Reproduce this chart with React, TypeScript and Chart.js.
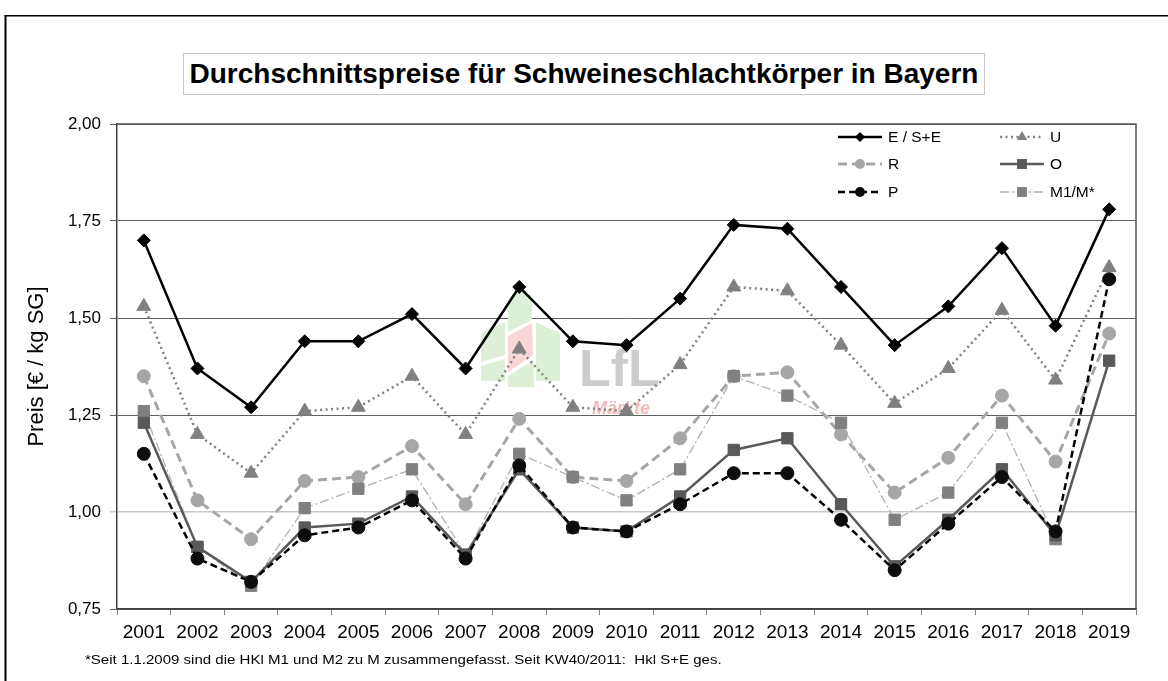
import React, { useEffect, useRef } from "react";
import { Chart, registerables } from "chart.js";

Chart.register(...registerables);

const FONT = '"Liberation Sans", Arial, sans-serif';

const years = ["2001", "2002", "2003", "2004", "2005", "2006", "2007", "2008", "2009", "2010", "2011", "2012", "2013", "2014", "2015", "2016", "2017", "2018", "2019"];

const seriesE = [1.70, 1.37, 1.27, 1.44, 1.44, 1.51, 1.37, 1.58, 1.44, 1.43, 1.55, 1.74, 1.73, 1.58, 1.43, 1.53, 1.68, 1.48, 1.78];
const seriesU = [1.53, 1.20, 1.10, 1.26, 1.27, 1.35, 1.20, 1.42, 1.27, 1.26, 1.38, 1.58, 1.57, 1.43, 1.28, 1.37, 1.52, 1.34, 1.63];
const seriesR = [1.35, 1.03, 0.93, 1.08, 1.09, 1.17, 1.02, 1.24, 1.09, 1.08, 1.19, 1.35, 1.36, 1.20, 1.05, 1.14, 1.30, 1.13, 1.46];
const seriesO = [1.23, 0.91, 0.82, 0.96, 0.97, 1.04, 0.89, 1.11, 0.96, 0.95, 1.04, 1.16, 1.19, 1.02, 0.86, 0.98, 1.11, 0.94, 1.39];
const seriesP = [1.15, 0.88, 0.82, 0.94, 0.96, 1.03, 0.88, 1.12, 0.96, 0.95, 1.02, 1.10, 1.10, 0.98, 0.85, 0.97, 1.09, 0.95, 1.60];
const seriesM = [1.26, 0.91, 0.81, 1.01, 1.06, 1.11, 0.89, 1.15, 1.09, 1.03, 1.11, 1.35, 1.30, 1.23, 0.98, 1.05, 1.23, 0.93, null];

const seriesLabels = ["E / S+E", "U", "R", "O", "P", "M1/M*"];
const yTicks = [0.75, 1.0, 1.25, 1.5, 1.75, 2.0];

const titleText = "Durchschnittspreise für Schweineschlachtkörper in Bayern";
const yTitle = "Preis [€ / kg SG]";
const footnote = "*Seit 1.1.2009 sind die HKl M1 und M2 zu M zusammengefasst. Seit KW40/2011:  Hkl S+E ges.";

function drawMarker(c: CanvasRenderingContext2D, style: string, x: number, y: number, r: number, color: string) {
  c.fillStyle = color;
  c.beginPath();
  if (style === "rectRot") {
    c.moveTo(x, y - r); c.lineTo(x + r, y); c.lineTo(x, y + r); c.lineTo(x - r, y); c.closePath();
  } else if (style === "triangle") {
    c.moveTo(x, y - r);
    c.lineTo(x + r * 0.866, y + r * 0.5);
    c.lineTo(x - r * 0.866, y + r * 0.5);
    c.closePath();
  } else if (style === "circle") {
    c.arc(x, y, r, 0, Math.PI * 2);
  } else {
    const s = r * 0.7071;
    c.rect(x - s, y - s, 2 * s, 2 * s);
  }
  c.fill();
}

const outerFramePlugin = {
  id: "outerFrame",
  beforeDraw(chart: any) {
    const c: CanvasRenderingContext2D = chart.ctx;
    c.save();
    c.fillStyle = "#000";
    c.fillRect(4.5, 15, 2, 681);
    c.fillRect(4.5, 15, 1170, 1.5);
    c.restore();
  },
};

const frameBorderPlugin = {
  id: "frameBorder",
  beforeDatasetsDraw(chart: any) {
    const { ctx, chartArea } = chart;
    ctx.save();
    ctx.strokeStyle = "#555555";
    ctx.lineWidth = 1.5;
    ctx.beginPath();
    ctx.moveTo(chartArea.left, chartArea.top);
    ctx.lineTo(chartArea.right, chartArea.top);
    ctx.lineTo(chartArea.right, chartArea.bottom);
    ctx.stroke();
    ctx.restore();
  },
};

const watermarkPlugin = {
  id: "watermark",
  beforeDatasetsDraw(chart: any) {
    const c: CanvasRenderingContext2D = chart.ctx;
    c.save();
    const poly = (pts: number[][], color: string) => {
      c.fillStyle = color;
      c.beginPath();
      pts.forEach((p, i) => (i ? c.lineTo(p[0], p[1]) : c.moveTo(p[0], p[1])));
      c.closePath();
      c.fill();
    };
    const green = "#ddefd6";
    const pink = "#f8d6d6";
    poly([[481, 333], [505, 322], [505, 355], [481, 362]], green);
    poly([[481, 366], [505, 359], [505, 381], [481, 381]], green);
    poly([[508, 300], [520, 287], [532, 296], [532, 320], [508, 332]], green);
    poly([[508, 336], [532, 323], [533, 355], [508, 372]], pink);
    poly([[536, 322], [560, 333], [560, 381], [536, 381]], green);
    poly([[508, 376], [534, 360], [534, 387], [508, 387]], green);
    c.fillStyle = "#cccccc";
    c.font = `bold 52px ${FONT}`;
    c.textBaseline = "alphabetic";
    c.fillText("LfL", 579, 386);
    c.fillStyle = "#f5b9b9";
    c.font = `italic bold 18px ${FONT}`;
    c.fillText("Märkte", 592, 414);
    c.restore();
  },
};

const customLegendPlugin = {
  id: "customLegend",
  afterDatasetsDraw(chart: any) {
    const c: CanvasRenderingContext2D = chart.ctx;
    const cols = [838, 1000];
    const rows = [137, 164, 192];
    c.save();
    chart.data.datasets.forEach((ds: any, i: number) => {
      const col = i % 2;
      const row = Math.floor(i / 2);
      const x0 = cols[col];
      const y = rows[row];
      c.strokeStyle = ds.borderColor;
      c.lineWidth = ds.borderWidth;
      c.setLineDash(ds.borderDash || []);
      c.beginPath();
      c.moveTo(x0, y);
      c.lineTo(x0 + 44, y);
      c.stroke();
      c.setLineDash([]);
      drawMarker(c, ds.pointStyle, x0 + 22, y, ds.legendRadius, ds.pointBackgroundColor);
      c.fillStyle = "#000";
      c.font = `15.5px ${FONT}`;
      c.textBaseline = "middle";
      c.fillText(ds.label, x0 + 50, y + 1);
    });
    c.restore();
  },
};

export default function App() {
  const ref = useRef<HTMLCanvasElement | null>(null);

  useEffect(() => {
    document.body.style.margin = "0";
    if (!ref.current) return;
    const chart = new Chart(ref.current, {
      type: "line",
      data: {
        labels: years,
        datasets: [
          { label: seriesLabels[0], data: seriesE, borderColor: "#000000", borderWidth: 2.5, pointStyle: "rectRot", pointRadius: 6.5, pointBackgroundColor: "#000000", pointBorderColor: "#000000", pointBorderWidth: 1, legendRadius: 5, order: 0 } as any,
          { label: seriesLabels[1], data: seriesU, borderColor: "#808080", borderWidth: 2.5, borderDash: [2, 3.5], pointStyle: "triangle", pointRadius: 8, pointBackgroundColor: "#808080", pointBorderColor: "#808080", pointBorderWidth: 1, legendRadius: 6, order: 5 } as any,
          { label: seriesLabels[2], data: seriesR, borderColor: "#a6a6a6", borderWidth: 3, borderDash: [9, 5], pointStyle: "circle", pointRadius: 6.5, pointBackgroundColor: "#a6a6a6", pointBorderColor: "#a6a6a6", pointBorderWidth: 1, legendRadius: 5, order: 4 } as any,
          { label: seriesLabels[3], data: seriesO, borderColor: "#595959", borderWidth: 2.5, pointStyle: "rect", pointRadius: 8, pointBackgroundColor: "#595959", pointBorderColor: "#595959", pointBorderWidth: 1, legendRadius: 7, order: 2 } as any,
          { label: seriesLabels[4], data: seriesP, borderColor: "#000000", borderWidth: 2.5, borderDash: [7, 4], pointStyle: "circle", pointRadius: 6.5, pointBackgroundColor: "#0d0d0d", pointBorderColor: "#0d0d0d", pointBorderWidth: 1, legendRadius: 5, order: 1 } as any,
          { label: seriesLabels[5], data: seriesM, borderColor: "#b0b0b0", borderWidth: 1.3, borderDash: [9, 3, 2, 3], pointStyle: "rect", pointRadius: 8, pointBackgroundColor: "#808080", pointBorderColor: "#808080", pointBorderWidth: 1, legendRadius: 7, spanGaps: false, order: 3 } as any,
        ],
      },
      options: {
        animation: false,
        responsive: false,
        devicePixelRatio: 1,
        layout: { padding: { left: 0, top: 124, right: 32, bottom: 0 } },
        plugins: {
          legend: { display: false },
          title: { display: false },
          tooltip: { enabled: false },
        },
        scales: {
          x: {
            offset: true,
            grid: { offset: true, drawOnChartArea: false, tickLength: 6, color: "#808080", lineWidth: 1 },
            border: { display: true, color: "#404040", width: 1.5 },
            ticks: { color: "#000", font: { family: FONT, size: 19 }, padding: 6, maxRotation: 0, autoSkip: false },
            afterFit: (s: any) => { s.height = 72; },
          },
          y: {
            min: yTicks[0],
            max: yTicks[yTicks.length - 1],
            afterBuildTicks: (s: any) => { s.ticks = yTicks.map((v) => ({ value: v })); },
            ticks: {
              color: "#000",
              font: { family: FONT, size: 17 },
              padding: 9,
              callback: (v: any) => Number(v).toFixed(2).replace(".", ","),
            },
            grid: {
              color: (ctx: any) => (ctx.tick && Math.abs(ctx.tick.value - 1) < 1e-6 ? "#c8c8c8" : "#606060"),
              lineWidth: (ctx: any) => (ctx.tick && Math.abs(ctx.tick.value - 1) < 1e-6 ? 1.5 : 1),
              tickLength: 7,
            },
            border: { display: true, color: "#404040", width: 1.5 },
            title: { display: true, text: yTitle, color: "#000", font: { family: FONT, size: 22 }, padding: { top: 24, bottom: 0 } },
            afterFit: (s: any) => { s.width = 117; },
          },
        },
      },
      plugins: [outerFramePlugin, frameBorderPlugin, watermarkPlugin, customLegendPlugin],
    });
    return () => chart.destroy();
  }, []);

  return (
    <div style={{ position: "relative", width: 1168, height: 681, overflow: "hidden", background: "#fff", fontFamily: FONT }}>
      <canvas ref={ref} width={1168} height={681} style={{ position: "absolute", left: 0, top: 0, display: "block" }} />
      <div style={{ position: "absolute", left: 1156, top: 17, width: 12, height: 664, background: "#fff" }} />
      <div style={{ position: "absolute", left: 183, top: 53, width: 802, height: 42, border: "1px solid #c8c8c8", display: "flex", alignItems: "center", justifyContent: "center", fontWeight: "bold", fontSize: 28, color: "#000", background: "#fff", boxSizing: "border-box", whiteSpace: "nowrap" }}>
        {titleText}
      </div>
      <div style={{ position: "absolute", left: 85, top: 652, fontSize: 13, lineHeight: "16px", color: "#000", whiteSpace: "pre", transform: "scaleX(1.156)", transformOrigin: "left center" }}>
        {footnote}
      </div>
    </div>
  );
}
